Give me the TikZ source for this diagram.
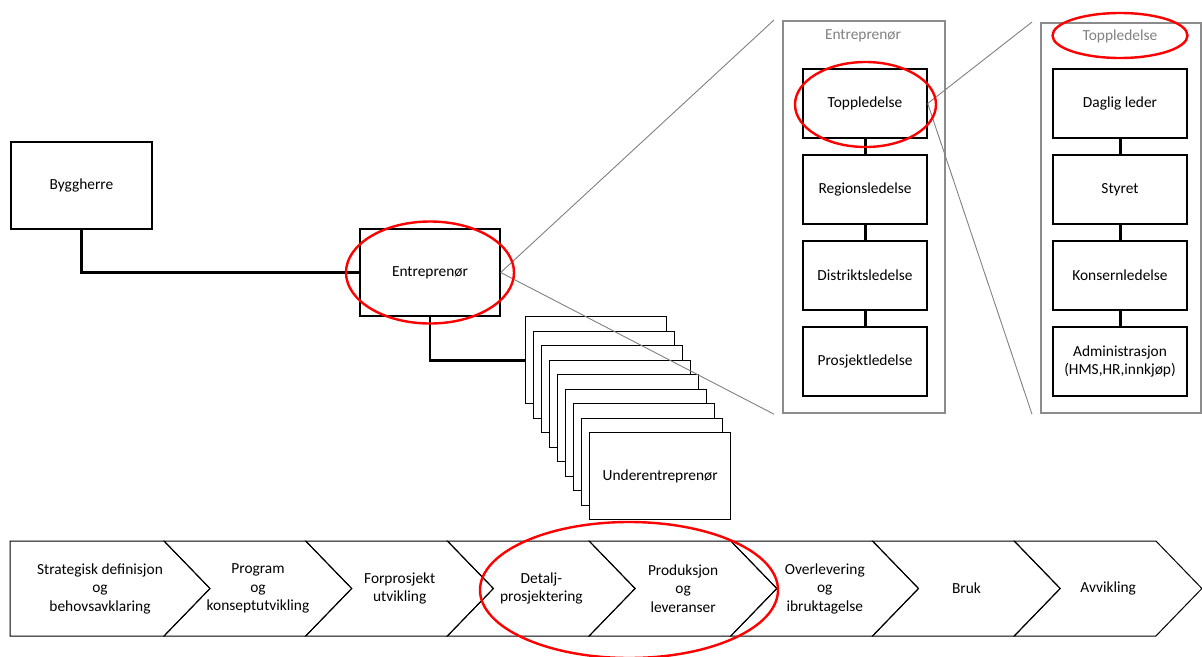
\documentclass[tikz,border=0pt]{standalone}
\usepackage{fontspec}
\setmainfont{Carlito}
\usetikzlibrary{shapes.geometric, positioning, calc}

\definecolor{panelgray}{HTML}{8C8C8C}
\definecolor{titlegray}{HTML}{808080}

\begin{document}
\begin{tikzpicture}[x=1pt, y=-1pt, font=\fontsize{15.4}{18.5}\selectfont]
  \newcommand\boxlw{1.4pt}
  \newcommand\linklw{2.6pt} % thick org links
  \newcommand\orgboxgap{15.6pt}
  \newcommand\stackdx{8}
  \newcommand\stackdy{14.5}
  \newcommand\phasewidth{141.7}

  \useasboundingbox (0,0) rectangle (1202,656);

  \node[draw, line width=\boxlw, minimum width=141pt, minimum height=87pt] at (81.5, 185.5) (bh) {Byggherre};
  \node[draw, line width=\boxlw, minimum width=140pt, minimum height=87pt] at (430, 272.5) (en) {Entreprenør};

  \foreach \i in {1,...,9}{
    \node[draw, fill=white, line width=\boxlw, minimum width=141pt, minimum height=87pt, anchor=north west] at ({525+(\i-1)*\stackdx}, {316+(\i-1)*\stackdy}) (ub\i) {\ifnum\i=9 Underentreprenør\fi};
  }

  \draw[line width=\linklw] (bh.south) |- (en.west);
  \draw[line width=\linklw] (en.south) |- (ub1.west);

  % entreprenør panel
  \node[draw=panelgray, line width=2.2pt, minimum width=162pt, minimum height=392pt, anchor=north west] at (782, 20) (pe) {};
  \node[text=titlegray] at (863, 36) (pe-t) {Entreprenør};
  \node[draw, line width=\boxlw, minimum width=124pt, minimum height=69pt] at (865, 103.5) (el1) {Toppledelse};
  \foreach \txt [count=\prev from 1, evaluate=\prev as \cur using int(\prev+1)] in {Regionsledelse, Distriktsledelse, Prosjektledelse}{
    \node[draw, line width=\boxlw, minimum width=124pt, minimum height=69pt, below=\orgboxgap of el\prev] (el\cur) {\txt};
  }

  % toppledelse panel
  \node[draw=panelgray, line width=2.2pt, minimum width=160pt, minimum height=390pt, anchor=north west] at (1040, 22) (pt) {};
  \node[text=titlegray] at (1120, 36) (pt-t) {Toppledelse};
  \node[draw, line width=\boxlw, minimum width=134pt, minimum height=69pt] at (1120, 103.5) (tl1) {Daglig leder};
  \foreach \txt [count=\prev from 1, evaluate=\prev as \cur using int(\prev+1)] in {Styret, Konsernledelse, {Administrasjon\\(HMS,HR,innkjøp)}}{
    \node[draw, line width=\boxlw, minimum width=134pt, minimum height=69pt, align=center, below=\orgboxgap of tl\prev] (tl\cur) {\txt};
  }

  \foreach \prev [evaluate=\prev as \cur using int(\prev+1)] in {1,2,3}{
    \draw[line width=3pt] (el\prev.south) -- (el\cur.north);
    \draw[line width=3pt] (tl\prev.south) -- (tl\cur.north);
  }

  \draw[titlegray, line width=0.9pt] (en.east) -- ([xshift=-8pt]pe.north west);
  \draw[titlegray, line width=0.9pt] (en.east) -- ([xshift=-8pt]pe.south west);
  \draw[titlegray, line width=0.9pt] (el1.east) -- ([xshift=-8pt]pt.north west);
  \draw[titlegray, line width=0.9pt] (el1.east) -- ([xshift=-8pt]pt.south west);

  % phases
  \draw[line width=1pt] (10,541) -- (164,541) -- (210,588.5) -- (164,636) -- (10,636) -- cycle;
  \node[align=center] at (100, 588.5) (ph1) {Strategisk definisjon\\og\\behovsavklaring};
  \foreach \txt [count=\i from 2] in {{Program\\og\\konseptutvikling}, {Forprosjekt\\utvikling}, {Detalj-\\prosjektering}, {Produksjon\\og\\leveranser}, {Overlevering\\og\\ibruktagelse}, Bruk, Avvikling}{
    \draw[line width=1pt] ({164+(\i-2)*\phasewidth},541) -- ++(\phasewidth,0) -- ++(46,47.5) -- ++(-46,47.5) -- ++(-\phasewidth,0) -- ++(46,-47.5) -- cycle;
    \node[align=center] at ({164+(\i-2)*\phasewidth+94}, 588.5) (ph\i) {\txt};
  }

  % highlights
  \node[draw=red, line width=2.4pt, ellipse, inner sep=0pt, minimum width=168pt, minimum height=102pt] at (430, 272.5) (mark1) {};
  \node[draw=red, line width=2.4pt, ellipse, inner sep=0pt, minimum width=141pt, minimum height=85pt] at (865.5, 104.5) (mark2) {};
  \node[draw=red, line width=2.4pt, ellipse, inner sep=0pt, minimum width=135pt, minimum height=45pt] at (1120, 35.5) (mark3) {};
  \node[draw=red, line width=2.4pt, ellipse, inner sep=0pt, minimum width=298pt, minimum height=136pt] at (629, 590) (mark4) {};
\end{tikzpicture}
\end{document}
